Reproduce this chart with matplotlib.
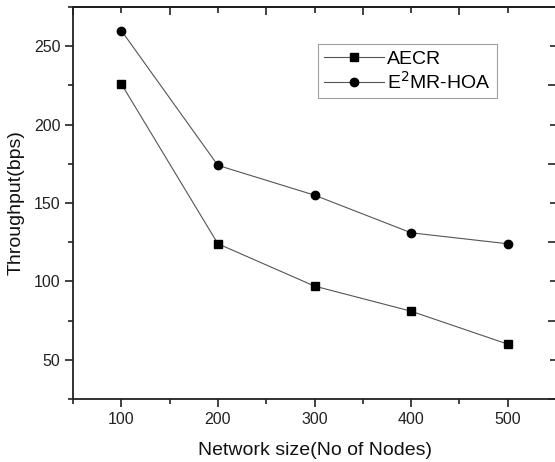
import matplotlib
matplotlib.use("Agg")
import matplotlib.pyplot as plt
from matplotlib.ticker import MultipleLocator

plt.rcParams['font.family'] = ['Liberation Sans', 'DejaVu Sans']

nodes = [100, 200, 300, 400, 500]
aecr = [226, 124, 97, 81, 60]
e2mr = [260, 174, 155, 131, 124]

fig = plt.figure(figsize=(5.55, 4.62), dpi=100)
ax = fig.add_axes([73/555, 63/462, 483/555, 392/462])

ax.plot(nodes, aecr, color='#555555', lw=0.8, marker='s', ms=5.2,
        mfc='black', mec='black', label='AECR')
ax.plot(nodes, e2mr, color='#555555', lw=0.8, marker='o', ms=6,
        mfc='black', mec='black', label='E$^2$MR-HOA')

ax.set_xlim(50, 550)
ax.set_ylim(25, 275)
ax.xaxis.set_major_locator(MultipleLocator(100))
ax.xaxis.set_minor_locator(MultipleLocator(50))
ax.yaxis.set_major_locator(MultipleLocator(50))
ax.yaxis.set_minor_locator(MultipleLocator(25))

ax.tick_params(which='major', direction='out', length=6, width=1.2,
               labelsize=11.5, colors='#222222', pad=3)
ax.tick_params(which='minor', direction='out', length=3.5, width=1.2, colors='#222222')
for s in ax.spines.values():
    s.set_linewidth(1.3)
    s.set_color('#222222')
ax.spines['right'].set_visible(False)

# inward ticks on top and right
top = ax.secondary_xaxis('top')
top.xaxis.set_major_locator(MultipleLocator(100))
top.xaxis.set_minor_locator(MultipleLocator(50))
top.tick_params(which='major', direction='in', length=4, width=1.2, labeltop=False, colors='#222222')
top.tick_params(which='minor', direction='in', length=6, width=1.2, colors='#222222')
top.spines['top'].set_linewidth(1.3)
right = ax.secondary_yaxis('right')
right.yaxis.set_major_locator(MultipleLocator(50))
right.yaxis.set_minor_locator(MultipleLocator(25))
right.tick_params(which='major', direction='in', length=4, width=1.2, labelright=False, colors='#222222')
right.tick_params(which='minor', direction='in', length=6, width=1.2, colors='#222222')
right.spines['right'].set_visible(False)

ax.set_xlabel('Network size(No of Nodes)', fontsize=14, color='#111111', labelpad=11)
ax.set_ylabel('Throughput(bps)', fontsize=14, color='#111111', labelpad=7)

leg = ax.legend(loc='upper left', bbox_to_anchor=(0.508, 0.905), fontsize=14,
                frameon=True, fancybox=False, edgecolor='#888888',
                handlelength=3.1, handletextpad=0.15, borderpad=0.3,
                labelspacing=0.15, borderaxespad=0)
leg.get_frame().set_linewidth(0.8)

fig.savefig('out.png', dpi=100)
